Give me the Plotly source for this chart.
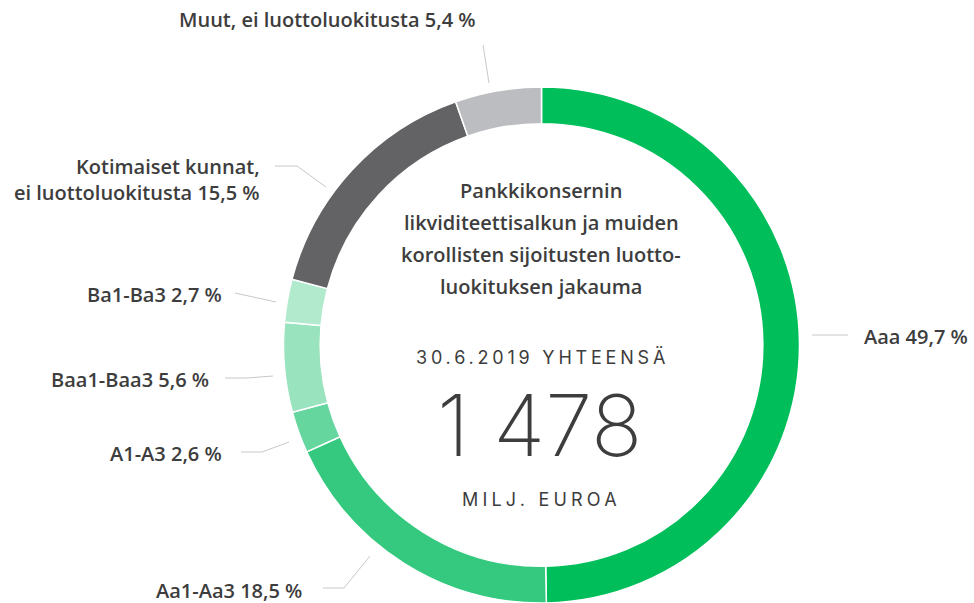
import plotly.graph_objects as go

W, H = 974, 603

categories = ["Aaa", "Aa1-Aa3", "A1-A3", "Baa1-Baa3", "Ba1-Ba3",
              "Kotimaiset kunnat, ei luottoluokitusta", "Muut, ei luottoluokitusta"]
values = [49.7, 18.5, 2.6, 5.6, 2.7, 15.5, 5.4]
label_texts = ["Aaa 49,7 %", "Aa1-Aa3 18,5 %", "A1-A3 2,6 %", "Baa1-Baa3 5,6 %",
               "Ba1-Ba3 2,7 %", "Kotimaiset kunnat,<br>ei luottoluokitusta 15,5 %",
               "Muut, ei luottoluokitusta 5,4 %"]
colors = ["#00BE5A", "#34C97E", "#66D69F", "#99E3BE", "#B2EACE", "#636365", "#BCBDC1"]

title_lines = ["Pankkikonsernin", "likviditeettisalkun ja muiden",
               "korollisten sijoitusten luotto-", "luokituksen jakauma"]
date_text = "30.6.2019 YHTEENSÄ"
total_text = "1 478"
unit_text = "MILJ. EUROA"

FONT = "Open Sans"
TXT = "#3d3d3d"

def px(x):
    return x / W

def py(y):
    return 1 - y / H

# pie geometry (pixels)
cx, cy, R = 541.5, 345, 258

fig = go.Figure(go.Pie(
    labels=categories, values=values, sort=False, direction="clockwise",
    rotation=0, hole=0.858, textinfo="none", hoverinfo="label+percent",
    marker=dict(colors=colors, line=dict(color="white", width=1.5)),
    domain=dict(x=[px(cx - R), px(cx + R)], y=[max(0, py(cy + R)), py(cy - R)]),
    showlegend=False,
))

# label placement (pixels): x, y, anchor, leader path points
label_layout = [
    (862, 336, "left", [(812, 335), (848, 335)]),
    (304, 590, "right", [(323, 588), (344, 588), (370, 556)]),
    (224, 453, "right", [(241, 452), (262, 452), (289, 442)]),
    (211, 379, "right", [(225, 378), (247, 378), (273, 376)]),
    (224, 294, "right", [(235, 293), (276, 302)]),
    (262, 179, "right", [(275, 166), (297, 166), (326, 187)]),
    (478, 20, "right", [(483, 45), (489, 83)]),
]

annotations = []
shapes = []
for txt, (lx, ly, anc, pts) in zip(label_texts, label_layout):
    annotations.append(dict(
        text=txt, x=px(lx), y=py(ly), xref="paper", yref="paper",
        xanchor=anc, yanchor="middle", showarrow=False, align="right",
        font=dict(family=FONT, size=20, color=TXT, weight=600),
    ))
    path = "M " + " L ".join(f"{px(a)},{py(b)}" for a, b in pts)
    shapes.append(dict(type="path", path=path, xref="paper", yref="paper",
                       line=dict(color="#c8c8c8", width=1)))

for i, line in enumerate(title_lines):
    annotations.append(dict(
        text=line, x=px(541), y=py(190 + i * 32.3), xref="paper", yref="paper",
        xanchor="center", yanchor="middle", showarrow=False,
        font=dict(family=FONT, size=20, color=TXT, weight=600),
    ))

annotations.append(dict(text=f'<span style="letter-spacing:3.8px">{date_text}</span>',
                        x=px(542), y=py(357), xref="paper", yref="paper",
                        xanchor="center", yanchor="middle", showarrow=False,
                        font=dict(family="Inter", size=18, color=TXT)))
annotations.append(dict(text=total_text, x=px(539), y=py(425), xref="paper", yref="paper",
                        xanchor="center", yanchor="middle", showarrow=False,
                        font=dict(family="Inter", size=85, color=TXT, weight=200)))
annotations.append(dict(text=f'<span style="letter-spacing:4.2px">{unit_text}</span>',
                        x=px(541), y=py(499), xref="paper", yref="paper",
                        xanchor="center", yanchor="middle", showarrow=False,
                        font=dict(family="Inter", size=18, color=TXT)))

fig.update_layout(
    width=W, height=H, margin=dict(l=0, r=0, t=0, b=0),
    paper_bgcolor="white", plot_bgcolor="white",
    annotations=annotations, shapes=shapes,
)

fig.write_html("out.html", config={"displayModeBar": False},
               post_script="document.body.style.margin='0';")
